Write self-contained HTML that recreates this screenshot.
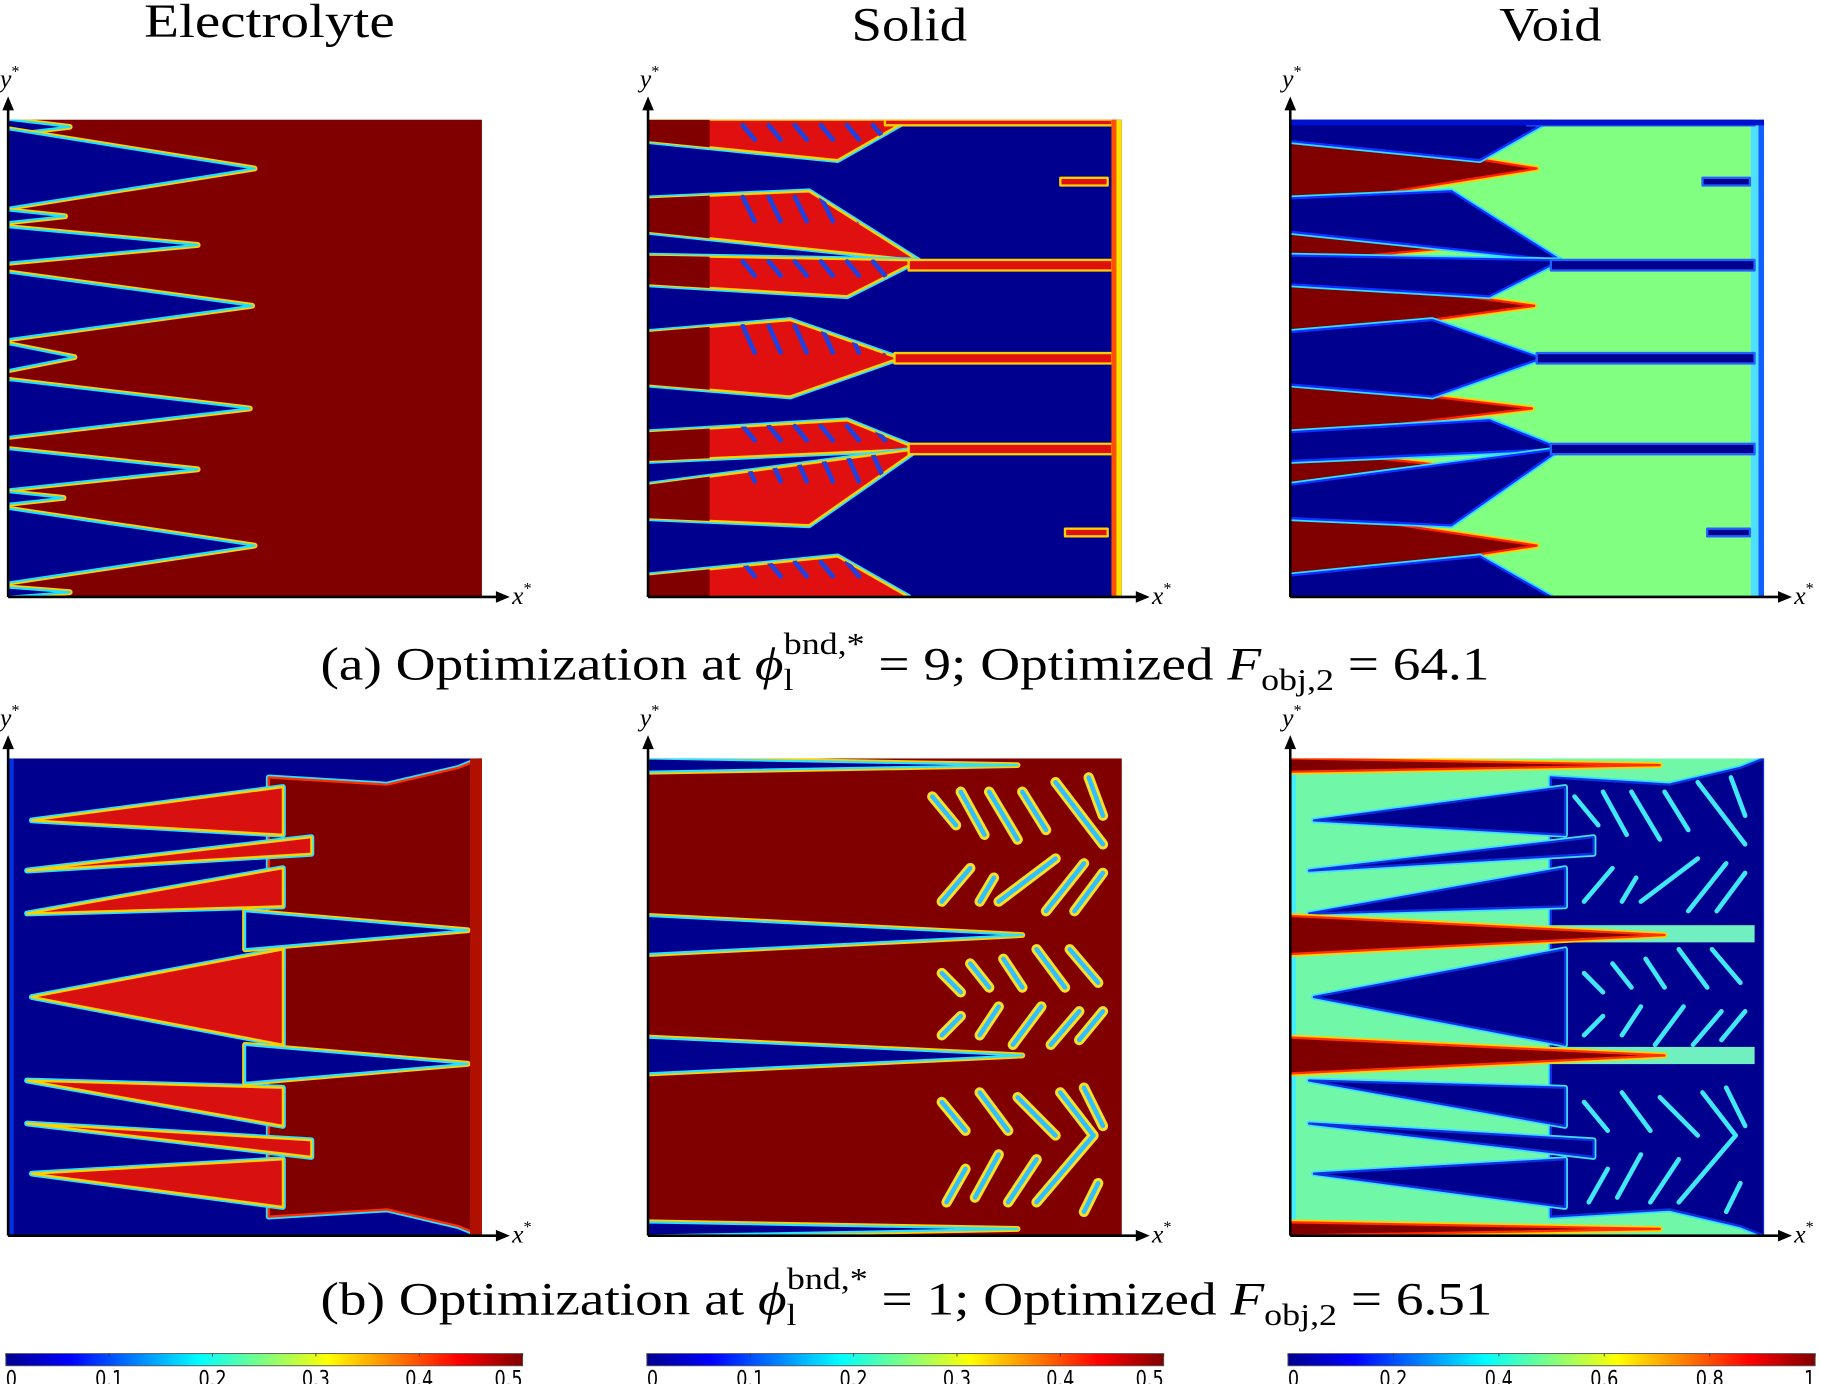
<!DOCTYPE html>
<html><head><meta charset="utf-8"><style>
html,body{margin:0;padding:0;background:#fff;}
svg{display:block;}
</style></head><body>
<svg id="fig" width="1821" height="1384" viewBox="0 0 1568 1191.7" xmlns="http://www.w3.org/2000/svg">
<defs>
<linearGradient id="jet" x1="0" x2="1" y1="0" y2="0">
<stop offset="0" stop-color="#00008f"/><stop offset="0.125" stop-color="#0000ff"/><stop offset="0.375" stop-color="#00ffff"/><stop offset="0.5" stop-color="#80ff80"/><stop offset="0.625" stop-color="#ffff00"/><stop offset="0.875" stop-color="#ff0000"/><stop offset="1" stop-color="#800000"/>
</linearGradient>
</defs>
<g id="layer"></g>
</svg>
<script>
// ---- data (panel-fraction coordinates; x from left, y from top) ----
// Electrolyte (a): blue fingers [yTop, yBot, tipX]
const elecAFingers = [[0.0,0.03,0.13],[0.02,0.185,0.52],[0.19,0.215,0.12],[0.225,0.30,0.40],[0.32,0.46,0.515],[0.47,0.525,0.14],[0.545,0.665,0.51],[0.69,0.775,0.40],[0.78,0.805,0.117],[0.815,0.97,0.52],[0.98,1.0,0.13]];
// Solid (a): fans, each a polygon of [x,y] points
const solidAFans = [
 [[0,0],[0.55,0],[0.40,0.085],[0,0.045]],
 [[0,0.165],[0.34,0.15],[0.57,0.295],[0,0.235]],
 [[0,0.285],[0.57,0.295],[0.42,0.37],[0,0.345]],
 [[0,0.445],[0.30,0.42],[0.53,0.50],[0.30,0.58],[0,0.555]],
 [[0,0.655],[0.42,0.63],[0.57,0.69],[0,0.715]],
 [[0,0.765],[0.57,0.69],[0.34,0.85],[0,0.835]],
 [[0,0.955],[0.40,0.915],[0.55,1.0],[0,1.0]]
];
// Solid (a) stems [yCenter, x0, x1, thickness]
const solidAStems = [[0.305,0.55,0.98,0.022],[0.50,0.52,0.98,0.022],[0.69,0.55,0.98,0.022],[0.13,0.87,0.97,0.016],[0.865,0.88,0.97,0.016],[0.006,0.5,0.98,0.012]];
// Electrolyte (b): red wedges [tipX, tipY, baseX, baseTop, baseBot]
const elecBRed = [[0.05,0.13,0.58,0.06,0.16],[0.04,0.235,0.64,0.165,0.20],[0.04,0.325,0.58,0.23,0.31],[0.05,0.50,0.58,0.40,0.60],[0.04,0.675,0.58,0.69,0.77],[0.04,0.765,0.64,0.80,0.835],[0.05,0.87,0.58,0.84,0.94]];
// Electrolyte (b): blue fingers from right region [yTop, yBot, x0, tipX]
const elecBBlue = [[0.32,0.40,0.50,0.97],[0.60,0.68,0.50,0.97]];
// Solid (b): blue fingers [yTop, yBot, tipX]
const solidBFingers = [[0.0,0.028,0.78],[0.33,0.41,0.79],[0.585,0.66,0.79],[0.972,1.0,0.78]];
// Solid (b)/Void (b) streaks [x, y, dx, dy]
const streaksB = [
 [0.60,0.08,0.05,0.06],[0.66,0.07,0.05,0.09],[0.72,0.07,0.06,0.10],[0.79,0.07,0.05,0.08],[0.86,0.05,0.1,0.13],[0.93,0.04,0.03,0.08],
 [0.62,0.30,0.06,-0.07],[0.70,0.30,0.03,-0.05],[0.74,0.30,0.12,-0.09],[0.84,0.32,0.08,-0.10],[0.90,0.32,0.06,-0.08],
 [0.62,0.45,0.04,0.04],[0.68,0.43,0.04,0.05],[0.75,0.42,0.04,0.06],[0.82,0.40,0.06,0.08],[0.89,0.40,0.06,0.07],
 [0.62,0.58,0.04,-0.04],[0.70,0.58,0.04,-0.06],[0.77,0.60,0.06,-0.08],[0.85,0.60,0.06,-0.07],[0.91,0.59,0.05,-0.06],
 [0.62,0.72,0.05,0.06],[0.70,0.70,0.06,0.08],[0.78,0.71,0.08,0.08],[0.87,0.70,0.07,0.09],[0.92,0.69,0.04,0.08],
 [0.63,0.93,0.04,-0.07],[0.69,0.92,0.05,-0.09],[0.76,0.93,0.06,-0.09],[0.82,0.93,0.12,-0.14],[0.92,0.95,0.03,-0.06]
];
const cbTicks1 = ["0","0.1","0.2","0.3","0.4","0.5"];
const cbTicks3 = ["0","0.2","0.4","0.6","0.8","1"];

// ---- layout ----
const NS="http://www.w3.org/2000/svg";
const L=document.getElementById('layer');
const W=408,H=411;
const cols=[7,558,1111], rows=[103,653];
const NAVY="#00008f", DRED="#800000", RED="#e01010", GREEN="#80ff80", VGREEN="#70f8a8";
function mk(tag,attrs,parent){const e=document.createElementNS(NS,tag);for(const k in attrs)e.setAttribute(k,attrs[k]);(parent||L).appendChild(e);return e;}
function sx(p,f){return p.x+f*W;} function sy(p,f){return p.y+f*H;}
function pts(p,arr){return arr.map(a=>sx(p,a[0]).toFixed(1)+","+sy(p,a[1]).toFixed(1)).join(" ");}
function edged(g,p,arr,fill,outer,inner,name){
 if(outer){const a=mk('polygon',{points:pts(p,arr),fill:'none',stroke:outer,'stroke-width':5,'stroke-linejoin':'round'},g);
 
 }
 const b=mk('polygon',{points:pts(p,arr),fill:fill,stroke:inner||'none','stroke-width':2,'stroke-linejoin':'round'},g);
 
 
 return b;}
function panel(ci,ri,name,bg){
 const p={x:cols[ci],y:rows[ri]};
 const g=mk('g',{});
 
 
 const cid='clip-'+name;
 const cp=mk('clipPath',{id:cid},g);mk('rect',{x:p.x,y:p.y,width:W,height:H},cp);
 const inner=mk('g',{'clip-path':'url(#'+cid+')'},g);
 const r=mk('rect',{x:p.x,y:p.y,width:W,height:H,fill:bg},inner);
 
 
 const ax=mk('g',{},g);
 
 
 mk('line',{x1:p.x,y1:p.y+H,x2:p.x,y2:p.y-12,stroke:'#000','stroke-width':2.2},ax);
 mk('polygon',{points:`${p.x-5},${p.y-8} ${p.x+5},${p.y-8} ${p.x},${p.y-20}`,fill:'#000'},ax);
 mk('line',{x1:p.x,y1:p.y+H,x2:p.x+W+14,y2:p.y+H,stroke:'#000','stroke-width':2.2},ax);
 mk('polygon',{points:`${p.x+W+12},${p.y+H-5} ${p.x+W+12},${p.y+H+5} ${p.x+W+24},${p.y+H}`,fill:'#000'},ax);
 const ty=mk('text',{x:p.x-7,y:p.y-28,'font-family':'Liberation Serif, serif','font-style':'italic','font-size':22},ax);
 
 
 ty.innerHTML='y<tspan dy="-9" font-size="14" font-style="normal">*</tspan>';
 const tx=mk('text',{x:p.x+W+26,y:p.y+H+6,'font-family':'Liberation Serif, serif','font-style':'italic','font-size':22},ax);
 
 
 tx.innerHTML='x<tspan dy="-9" font-size="14" font-style="normal">*</tspan>';
 return {p,g:inner};}
function rect(g,p,x0,y0,x1,y1,fill,name){const r=mk('rect',{x:sx(p,x0),y:sy(p,y0),width:(x1-x0)*W,height:(y1-y0)*H,fill:fill},g);
 
 return r;}
function stems(g,p,col,edge,name){solidAStems.forEach((s,i)=>{
 const y=s[0],t=s[3];
 edged(g,p,[[s[1],y-t/2],[s[2],y-t/2],[s[2],y+t/2],[s[1],y+t/2]],col,null,edge,name+'-stem-'+i);});}
function fingerPts(f){return [[0,f[0]],[f[2],(f[0]+f[1])/2],[0,f[1]]];}
function streak(g,p,s,col,w,name,i){
 const a=mk('line',{x1:sx(p,s[0]),y1:sy(p,s[1]),x2:sx(p,s[0]+s[2]),y2:sy(p,s[1]+s[3]),stroke:col,'stroke-width':w,'stroke-linecap':'round'},g);
 
 }

// ===== Electrolyte (a) =====
(function(){const {p,g}=panel(0,0,'electrolyte-a',DRED);
 elecAFingers.forEach((f,i)=>edged(g,p,fingerPts(f),NAVY,'#ffd000','#20e0ff','electrolyte-a-finger-'+i));})();

// ===== Solid (a) =====
(function(){const {p,g}=panel(1,0,'solid-a',NAVY);
 solidAFans.forEach((f,i)=>{edged(g,p,f,RED,'#30e0ff','#ffd000','solid-a-fan-'+i);});
 solidAFans.forEach((f,i)=>{
   const ys=f.map(q=>q[1]);const y0=Math.min(...ys),y1=Math.max(...ys);
   const cid='sfan'+i;const cp=mk('clipPath',{id:cid},g);mk('polygon',{points:pts(p,f)},cp);
   const hg=mk('g',{'clip-path':'url(#'+cid+')'},g);
   rect(hg,p,0,y0,0.13,y1,DRED,'solid-a-fan-base-'+i);
   for(let k=0;k<6;k++){const x=0.20+k*0.055;
     streak(hg,p,[x,y0+0.012,0.025,(y1-y0)*0.35],'#2040e0',4,'solid-a-fan-'+i,k);}
 });
 stems(g,p,RED,'#ffd000','solid-a');
 rect(g,p,0.988,0,1,1,'#ffe000','solid-a-right-edge');
 rect(g,p,0.978,0,0.988,1,'#ff5000','solid-a-right-edge-inner');
})();

// ===== Void (a) =====
(function(){const {p,g}=panel(2,0,'void-a',GREEN);
 rect(g,p,0.988,0,1,1,'#1060ff','void-a-right-edge');
 rect(g,p,0.972,0,0.988,1,'#50e0ff','void-a-right-edge-inner');
 elecAFingers.forEach((f,i)=>edged(g,p,fingerPts(f),DRED,'#ffd000','#ff2000','void-a-red-'+i));
 solidAFans.forEach((f,i)=>edged(g,p,f,NAVY,'#30e0ff','#1030ff','void-a-fan-'+i));
 stems(g,p,NAVY,'#2060ff','void-a');
 rect(g,p,0,0,1,0.012,'#0010d0','void-a-top-band');
})();

// ===== Electrolyte (b) =====
(function(){const {p,g}=panel(0,1,'electrolyte-b',NAVY);
 rect(g,p,0,0,0.012,1,'#0030e0','electrolyte-b-left-edge');
 edged(g,p,[[0.55,0.04],[0.80,0.055],[0.95,0.02],[1,0],[1,1],[0.95,0.98],[0.80,0.945],[0.55,0.96]],DRED,'#30e0ff','#ff3000','electrolyte-b-right-mass');
 elecBRed.forEach((w,i)=>edged(g,p,[[w[0],w[1]],[w[2],w[3]],[w[2],w[4]]],'#d81010','#30e0ff','#ffd000','electrolyte-b-red-'+i));
 elecBBlue.forEach((f,i)=>edged(g,p,[[f[2],f[0]],[f[3],(f[0]+f[1])/2],[f[2],f[1]]],NAVY,'#ffd000','#30e0ff','electrolyte-b-blue-'+i));
 rect(g,p,0.975,0,1,1,'#b01000','electrolyte-b-right-edge');
})();

// ===== Solid (b) =====
(function(){const {p,g}=panel(1,1,'solid-b',DRED);
 solidBFingers.forEach((f,i)=>edged(g,p,fingerPts(f),NAVY,'#ffd000','#30e0ff','solid-b-finger-'+i));
 streaksB.forEach((s,i)=>streak(g,p,s,'#ffe020',9,'solid-b-glow',i));
 streaksB.forEach((s,i)=>streak(g,p,s,'#30c0ff',4,'solid-b',i));
})();

// ===== Void (b) =====
(function(){const {p,g}=panel(2,1,'void-b',VGREEN);
 rect(g,p,0,0,0.012,1,'#40f0ff','void-b-left-edge');
 edged(g,p,[[0.55,0.04],[0.80,0.055],[0.95,0.02],[1,0],[1,1],[0.95,0.98],[0.80,0.945],[0.55,0.96]],NAVY,'#30e0ff','#1030e0','void-b-right-mass');
 elecBRed.forEach((w,i)=>edged(g,p,[[w[0],w[1]],[w[2],w[3]],[w[2],w[4]]],NAVY,'#40e0ff','#1030e0','void-b-navy-'+i));
 streaksB.forEach((s,i)=>streak(g,p,s,'#40e8ff',4,'void-b',i));
 [[0.335,0.40],[0.585,0.66]].forEach((f,i)=>{
   rect(g,p,0.5,(f[0]+f[1])/2-0.018,0.98,(f[0]+f[1])/2+0.018,'#70f0c0','void-b-band-'+i);});
 solidBFingers.forEach((f,i)=>edged(g,p,fingerPts(f),DRED,'#ffd000','#ff3000','void-b-red-'+i));
})();

// ===== Titles & captions =====
function txt(x,y,s,size,name,anchor,sxs){const t=mk('text',{x:x,y:y,'font-family':'Liberation Serif, serif','font-size':size,'text-anchor':anchor||'middle',fill:'#000'});
 
 
 if(sxs)t.setAttribute('transform',`translate(${x},0) scale(${sxs},1) translate(${-x},0)`);
 t.innerHTML=s;return t;}
txt(232,32,'Electrolyte',41,'title-electrolyte','middle',1.2);
txt(783,35,'Solid',41,'title-solid','middle',1.15);
txt(1335,35,'Void',41,'title-void','middle',1.15);
function caption(y,lab,phi,F,name){
 return txt(276,y,lab+' Optimization at <tspan font-style="italic">ϕ</tspan><tspan dy="9" font-size="26">l</tspan><tspan dx="-7" dy="-31" font-size="26">bnd,*</tspan><tspan dy="22"> = '+phi+'; Optimized </tspan><tspan font-style="italic">F</tspan><tspan dy="9" font-size="26">obj,2</tspan><tspan dy="-9"> = '+F+'</tspan>',40,name,'start',1.19);}
caption(585,'(a)','9','64.1','caption-a');
caption(1132,'(b)','1','6.51','caption-b');

// ===== Colorbars =====
function colorbar(x0,x1,ticks,name){
 const g=mk('g',{});
 
 
 const r=mk('rect',{x:x0,y:1165.5,width:x1-x0,height:10.5,fill:'url(#jet)',stroke:'#555','stroke-width':0.8},g);
 
 
 ticks.forEach((t,i)=>{const x=x0+(x1-x0)*i/(ticks.length-1);
  mk('line',{x1:x,y1:1165.5,x2:x,y2:1168,stroke:'#333','stroke-width':0.8},g);
  const tt=mk('text',{x:x,y:1194,'font-family':'DejaVu Sans, sans-serif','font-size':19,'text-anchor':i==0?'start':(i==ticks.length-1?'end':'middle'),fill:'#000'},g);
  
  
  tt.setAttribute('transform',`translate(${x},0) scale(0.8,1) translate(${-x},0)`);
  tt.textContent=t;});
}
colorbar(5,450,cbTicks1,'colorbar-electrolyte');
colorbar(557,1002,cbTicks1,'colorbar-solid');
colorbar(1109,1563,cbTicks3,'colorbar-void');
</script>
</body></html>
